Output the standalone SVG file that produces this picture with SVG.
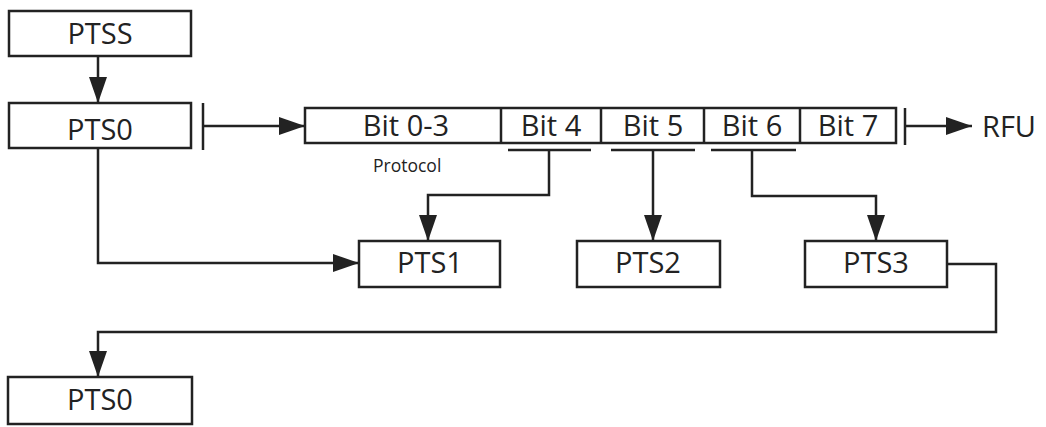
<svg xmlns="http://www.w3.org/2000/svg" width="1046" height="427" viewBox="0 0 1046 427">
<defs>
<style>
.box{fill:#fff;stroke:#222;stroke-width:2.5}
.ln{fill:none;stroke:#222;stroke-width:2.5}
.t{font-family:"Open Sans","Noto Sans",sans-serif;font-size:29px;fill:#222;text-anchor:middle}
.s{font-family:"Open Sans","Noto Sans",sans-serif;font-size:17.5px;fill:#222}
</style>
<marker id="ar" markerUnits="userSpaceOnUse" markerWidth="26" markerHeight="18" refX="26" refY="9" orient="auto">
<path d="M0,0 L26,9 L0,18 Z" fill="#222"/>
</marker>
</defs>
<rect width="1046" height="427" fill="#fff"/>
<g id="connectors">
<line class="ln" x1="98" y1="57" x2="98" y2="103" marker-end="url(#ar)"/>
<line class="ln" x1="203" y1="103" x2="203" y2="150"/>
<line class="ln" x1="203" y1="126" x2="305" y2="126" marker-end="url(#ar)"/>
<line class="ln" x1="905" y1="108" x2="905" y2="145"/>
<line class="ln" x1="905" y1="126" x2="972" y2="126" marker-end="url(#ar)"/>
<line class="ln" x1="508" y1="150" x2="591" y2="150"/>
<line class="ln" x1="611" y1="150" x2="695" y2="150"/>
<line class="ln" x1="711" y1="150" x2="796" y2="150"/>
<polyline class="ln" points="549,150 549,195 428,195 428,241" marker-end="url(#ar)"/>
<line class="ln" x1="653" y1="150" x2="653" y2="241" marker-end="url(#ar)"/>
<polyline class="ln" points="752,150 752,196 876,196 876,241" marker-end="url(#ar)"/>
<polyline class="ln" points="98,148 98,263 359,263" marker-end="url(#ar)"/>
<polyline class="ln" points="947,264 996,264 996,332 98,332 98,377" marker-end="url(#ar)"/>
</g>
<g id="ptss"><rect class="box" x="9" y="11" width="182" height="45"/><text class="t" x="100" y="44">PTSS</text></g>
<g id="pts0-top"><rect class="box" x="9" y="103" width="182" height="45"/><text class="t" x="100" y="140">PTS0</text></g>
<g id="pts0-byte">
<rect class="box" x="305" y="108" width="591" height="35"/>
<line class="ln" x1="501" y1="108" x2="501" y2="143"/>
<line class="ln" x1="601" y1="108" x2="601" y2="143"/>
<line class="ln" x1="704" y1="108" x2="704" y2="143"/>
<line class="ln" x1="800" y1="108" x2="800" y2="143"/>
<text class="t" x="406" y="136">Bit 0-3</text>
<text class="t" x="551" y="136">Bit 4</text>
<text class="t" x="653" y="136">Bit 5</text>
<text class="t" x="752" y="136">Bit 6</text>
<text class="t" x="848" y="136">Bit 7</text>
<text class="s" x="373" y="172">Protocol</text>
</g>
<g id="rfu"><text class="t" x="1009" y="137">RFU</text></g>
<g id="pts1"><rect class="box" x="359" y="241" width="141" height="46"/><text class="t" x="430" y="273">PTS1</text></g>
<g id="pts2"><rect class="box" x="577" y="241" width="143" height="46"/><text class="t" x="648" y="273">PTS2</text></g>
<g id="pts3"><rect class="box" x="805" y="241" width="142" height="46"/><text class="t" x="876" y="273">PTS3</text></g>
<g id="pts0-bottom"><rect class="box" x="8" y="377" width="184" height="47"/><text class="t" x="100" y="410">PTS0</text></g>
</svg>
